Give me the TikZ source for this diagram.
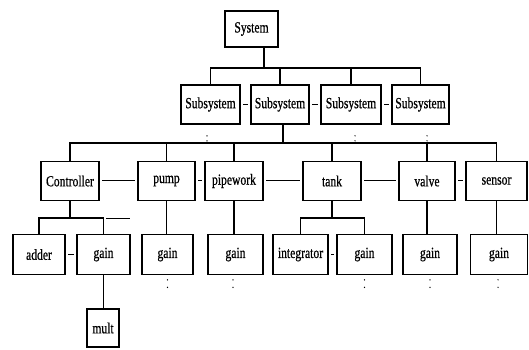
\documentclass[tikz,border=0pt]{standalone}
\usepackage{fontspec}
\setmainfont{Liberation Serif}[FakeStretch=0.75,FakeBold=0.6]
\begin{document}
\begin{tikzpicture}[x=1pt,y=-1pt,
  box/.style={draw, line width=1.6pt, inner sep=0pt, minimum height=39pt,
    font=\fontsize{15.5}{15.5}\selectfont},
  conn/.style={line width=1.3pt},
  link/.style={line width=0.6pt, shorten <=2.5pt, shorten >=2.5pt},
  dotmark/.style={fill=black}]
\fill[white] (0,0) rectangle (529,349);
\useasboundingbox (0,0) rectangle (529,349);
% level 0
\node[box, minimum width=53pt, minimum height=36pt] (sys) at (251.5,29) {System};
% level 1
\node[box, minimum width=59pt] (s1) at (210.5,104.5) {Subsystem};
\node[box, minimum width=58pt] (s2) at (280,104.5) {Subsystem};
\node[box, minimum width=60pt] (s3) at (351,104.5) {Subsystem};
\node[box, minimum width=57pt] (s4) at (420.5,104.5) {Subsystem};
% level 2
\node[box, minimum width=58pt] (ctrl) at (70,181) {Controller};
\node[box, minimum width=57pt] (pump) at (166.5,181) {pump};
\node[box, minimum width=58pt] (pipe) at (234,181) {pipework};
\node[box, minimum width=58pt] (tank) at (332,181) {tank};
\node[box, minimum width=56pt] (valve) at (427,181) {valve};
\node[box, minimum width=61pt] (sensor) at (496.5,181) {sensor};
% level 3
\node[box, minimum width=52pt, minimum height=40pt] (adder) at (39,254.5) {adder};
\node[box, minimum width=53pt, minimum height=40pt] (gain1) at (103.5,254.5) {gain};
\node[box, minimum width=51pt, minimum height=40pt] (gain2) at (167.5,254.5) {gain};
\node[box, minimum width=55pt, minimum height=40pt] (gain3) at (235.5,254.5) {gain};
\node[box, minimum width=55pt, minimum height=40pt] (integ) at (300.5,254.5) {integrator};
\node[box, minimum width=55pt, minimum height=40pt] (gain4) at (364.5,254.5) {gain};
\node[box, minimum width=54pt, minimum height=40pt] (gain5) at (430,254.5) {gain};
\node[box, minimum width=57pt, minimum height=40pt] (gain6) at (499,254.5) {gain};
% level 4
\node[box, minimum width=32pt, minimum height=38pt] (mult) at (103,328) {mult};
% bus coordinates
\coordinate (b1) at (0,68);
\coordinate (b2) at (0,143);
\coordinate (b3) at (0,218);
% system to subsystems
\draw[conn] ([xshift=12.5pt]sys.south) -- ([xshift=12.5pt]sys.south |- b1);
\draw[conn] (s1.north) -- (s1.north |- b1) -- (s4.north |- b1) -- (s4.north);
\draw[conn] (s2.north) -- (s2.north |- b1);
\draw[conn] (s3.north) -- (s3.north |- b1);
% subsystem to components
\draw[conn] ([xshift=3pt]s2.south) -- ([xshift=3pt]s2.south |- b2);
\draw[conn] (ctrl.north) -- (ctrl.north |- b2) -- (sensor.north |- b2) -- (sensor.north);
\draw[conn] (pump.north) -- (pump.north |- b2);
\draw[conn] (pipe.north) -- (pipe.north |- b2);
\draw[conn] (tank.north) -- (tank.north |- b2);
\draw[conn] (valve.north) -- (valve.north |- b2);
% components to blocks
\draw[conn] (ctrl.south) -- (ctrl.south |- b3);
\draw[conn] (adder.north) -- (adder.north |- b3) -- (gain1.north |- b3) -- (gain1.north);
\coordinate (sd1) at (106,218);
\coordinate (sd2) at (130,218);
\draw[line width=0.6pt] (sd1) -- (sd2);
\draw[conn] (tank.south) -- (tank.south |- b3);
\draw[conn] (integ.north) -- (integ.north |- b3) -- (gain4.north |- b3) -- (gain4.north);
\draw[conn] (pump.south) -- (pump.south |- gain2.north);
\draw[conn] (pipe.south) -- (pipe.south |- gain3.north);
\draw[conn] (valve.south) -- (valve.south |- gain5.north);
\draw[conn] (sensor.south) -- (sensor.south |- gain6.north);
\draw[conn] (gain1.south) -- (gain1.south |- mult.north);
% thin side links
\draw[link] (s1.east) -- (s2.west);
\draw[link] (s2.east) -- (s3.west);
\draw[link] (s3.east) -- (s4.west);
\draw[link] ([yshift=1pt]ctrl.east) -- ([yshift=1pt]pump.west);
\draw[link] ([yshift=1pt]pump.east) -- ([yshift=1pt]pipe.west);
\draw[link] ([yshift=1pt]pipe.east) -- ([yshift=1pt]tank.west);
\draw[link] ([yshift=1pt]tank.east) -- ([yshift=1pt]valve.west);
\draw[link] ([yshift=1pt]valve.east) -- ([yshift=1pt]sensor.west);
\draw[link] (adder.east) -- (gain1.west);
\draw[link] (integ.east) -- (gain4.west);
% small dotted marks
\foreach \n/\dx in {s1/-3.5, s3/4, s4/6.5}{
  \fill[dotmark] ([xshift=\dx pt, yshift=-11pt]\n.south) circle (0.7pt);
  \fill[dotmark] ([xshift=\dx pt, yshift=-16pt]\n.south) circle (0.7pt);
}
\foreach \n/\dx in {gain2/0, gain3/-2.5, gain4/0, gain5/0, gain6/-1}{
  \fill[dotmark] ([xshift=\dx pt, yshift=-4.5pt]\n.south) circle (0.7pt);
  \fill[dotmark] ([xshift=\dx pt, yshift=-12pt]\n.south) circle (0.7pt);
}
\end{tikzpicture}
\end{document}
